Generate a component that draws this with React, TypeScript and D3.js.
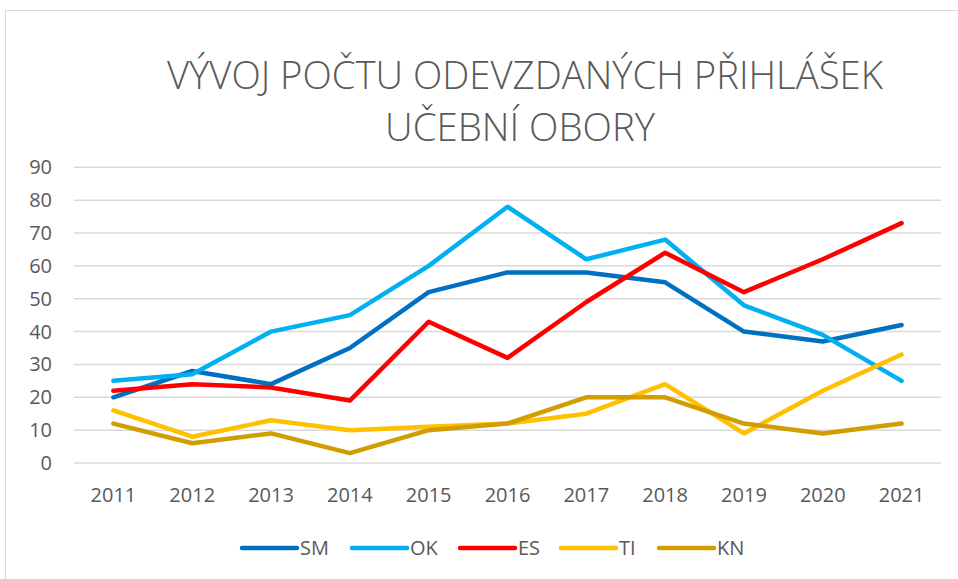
import React from "react";
import * as d3 from "d3";

const years = ["2011","2012","2013","2014","2015","2016","2017","2018","2019","2020","2021"];
const SM = [20, 28, 24, 35, 52, 58, 58, 55, 40, 37, 42];
const OK = [25, 27, 40, 45, 60, 78, 62, 68, 48, 39, 25];
const ES = [22, 24, 23, 19, 43, 32, 49, 64, 52, 62, 73];
const TI = [16, 8, 13, 10, 11, 12, 15, 24, 9, 22, 33];
const KN = [12, 6, 9, 3, 10, 12, 20, 20, 12, 9, 12];
const yTicks = [0, 10, 20, 30, 40, 50, 60, 70, 80, 90];
const seriesNames = ["SM", "OK", "ES", "TI", "KN"];
const seriesColors = ["#0070C0", "#00B0F0", "#FF0000", "#FFC000", "#D09E00"];
const titleLines = ["VÝVOJ POČTU ODEVZDANÝCH PŘIHLÁŠEK", "UČEBNÍ OBORY"];

export default function App() {
  const W = 958, H = 579;
  const seriesData = [SM, OK, ES, TI, KN];
  const x = d3.scaleBand<string>().domain(years).range([74, 941]);
  const y = d3.scaleLinear().domain([0, 90]).range([463, 167.3]);
  const line = d3.line<number>()
    .x((_, i) => (x(years[i]) as number) + x.bandwidth() / 2)
    .y((d) => y(d));
  const font = "'Open Sans', 'Noto Sans', sans-serif";
  const textColor = "#595959";
  const legendX = [242, 352, 460, 561, 659];
  const legendY = 548;
  return (
    <svg width={W} height={H} style={{ position: "absolute", left: 0, top: 0, background: "#fff" }}>
      <rect x={5.5} y={10.5} width={1000} height={700} fill="#fff" stroke="#d9d9d9" strokeWidth={1} />
      <text x={525} y={89} textAnchor="middle" fontFamily={font} fontWeight={300} fontSize={39} fill={textColor}
        textLength={716} lengthAdjust="spacingAndGlyphs">{titleLines[0]}</text>
      <text x={520} y={141} textAnchor="middle" fontFamily={font} fontWeight={300} fontSize={39} fill={textColor}
        textLength={270} lengthAdjust="spacingAndGlyphs">{titleLines[1]}</text>
      {yTicks.map((t) => (
        <g key={t}>
          <line x1={74} x2={941} y1={y(t)} y2={y(t)} stroke="#d9d9d9" strokeWidth={1.5} />
          <text x={52} y={y(t)} dy="0.35em" textAnchor="end" fontFamily={font} fontSize={20} fill={textColor}>{t}</text>
        </g>
      ))}
      {years.map((yr) => (
        <text key={yr} x={(x(yr) as number) + x.bandwidth() / 2} y={495} dy="0.35em" textAnchor="middle"
          fontFamily={font} fontSize={20} fill={textColor}>{yr}</text>
      ))}
      {seriesData.map((s, i) => (
        <path key={seriesNames[i]} d={line(s) || ""} fill="none" stroke={seriesColors[i]} strokeWidth={4.5}
          strokeLinejoin="round" strokeLinecap="round" />
      ))}
      {seriesNames.map((n, i) => (
        <g key={n}>
          <line x1={legendX[i]} x2={legendX[i] + 55} y1={legendY} y2={legendY} stroke={seriesColors[i]}
            strokeWidth={4.5} strokeLinecap="round" />
          <text x={legendX[i] + 58} y={legendY} dy="0.35em" fontFamily={font} fontSize={20} fill={textColor}>{n}</text>
        </g>
      ))}
    </svg>
  );
}
